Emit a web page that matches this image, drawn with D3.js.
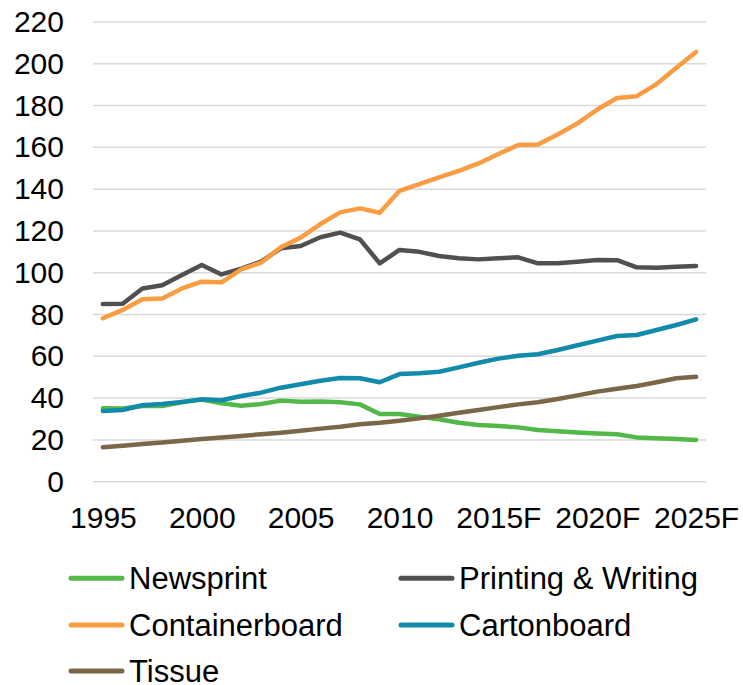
<!DOCTYPE html>
<html>
<head>
<meta charset="utf-8">
<script src="https://cdn.jsdelivr.net/npm/d3@7/dist/d3.min.js"></script>
<style>
  html, body { margin: 0; padding: 0; background: #fff; }
  svg { display: block; font-family: "Liberation Sans", Arial, sans-serif; }
</style>
</head>
<body>
<svg id="chart" width="743" height="685"></svg>
<script>
// Years on the category axis (forecast years marked with F)
const years = ["1995","1996","1997","1998","1999","2000","2001","2002","2003","2004",
  "2005","2006","2007","2008","2009","2010","2011","2012","2013","2014",
  "2015F","2016F","2017F","2018F","2019F","2020F","2021F","2022F","2023F","2024F","2025F"];
// Only every fifth year is labelled
const xTickLabels = ["1995","2000","2005","2010","2015F","2020F","2025F"];
const yTicks = [0,20,40,60,80,100,120,140,160,180,200,220];

const newsprint = [35.1,35.0,36.2,36.2,38.0,39.3,37.5,36.3,37.2,38.8,
  38.3,38.4,38.0,37.0,32.4,32.4,31.1,29.9,28.2,27.1,
  26.6,26.0,24.7,24.1,23.6,23.1,22.7,21.2,20.8,20.4,20.0];
const printingWriting = [85.0,85.2,92.5,94.0,98.9,103.7,99.2,102.0,105.3,111.7,
  112.8,117.0,119.2,116.0,104.5,110.9,110.0,108.0,106.9,106.4,
  106.9,107.4,104.5,104.5,105.3,106.1,106.0,102.6,102.4,102.9,103.2];
const containerboard = [78.2,82.2,87.3,87.7,92.5,95.7,95.4,101.6,104.8,112.2,
  116.8,123.3,128.9,130.8,128.7,139.2,142.4,145.6,148.8,152.3,
  156.8,161.1,161.4,166.2,171.5,178.1,183.6,184.5,190.3,198.1,205.7];
const cartonboard = [33.8,34.3,36.6,37.2,38.2,39.4,39.0,41.0,42.6,45.0,
  46.6,48.3,49.6,49.5,47.6,51.5,51.9,52.6,54.7,56.9,
  58.9,60.3,61.0,63.0,65.3,67.5,69.7,70.2,72.6,75.0,77.7];
const tissue = [16.5,17.2,18.0,18.8,19.6,20.4,21.2,21.9,22.7,23.4,
  24.4,25.4,26.3,27.5,28.2,29.2,30.3,31.6,33.0,34.3,
  35.7,37.0,38.0,39.6,41.3,43.1,44.5,45.8,47.6,49.5,50.2];

const seriesNames = ["Newsprint","Printing & Writing","Containerboard","Cartonboard","Tissue"];
const seriesColors = ["#52b848","#505052","#f99c42","#128aa9","#7b6647"];
const seriesValues = [newsprint, printingWriting, containerboard, cartonboard, tissue];

const svg = d3.select("#chart");
const plot = { left: 93, right: 706, top: 22, bottom: 481.7 };

const x = d3.scalePoint().domain(years).range([plot.left, plot.right]).padding(0.5);
const y = d3.scaleLinear().domain([0, 220]).range([plot.bottom, plot.top]);

// Horizontal gridlines
svg.append("g")
  .selectAll("line")
  .data(yTicks)
  .join("line")
  .attr("x1", plot.left).attr("x2", plot.right)
  .attr("y1", d => y(d)).attr("y2", d => y(d))
  .attr("stroke", "#d9d9d9").attr("stroke-width", 1.5);

// Value axis labels
const yAxis = d3.axisLeft(y).tickValues(yTicks).tickSize(0).tickPadding(0);
svg.append("g")
  .attr("transform", `translate(${plot.left - 29},0)`)
  .call(yAxis)
  .call(g => g.select(".domain").remove())
  .call(g => g.selectAll("text").attr("font-size", 30).attr("fill", "#000")
    .attr("font-family", "'Liberation Sans', Arial, sans-serif"));

// Category axis labels
const xAxis = d3.axisBottom(x).tickValues(xTickLabels).tickSize(0).tickPadding(0);
svg.append("g")
  .attr("transform", `translate(0,${plot.bottom + 25})`)
  .call(xAxis)
  .call(g => g.select(".domain").remove())
  .call(g => g.selectAll("text").attr("font-size", 30).attr("fill", "#000")
    .attr("font-family", "'Liberation Sans', Arial, sans-serif"));

// Series lines
const line = d3.line()
  .x((d, i) => x(years[i]))
  .y(d => y(d));

svg.append("g")
  .selectAll("path")
  .data(seriesValues)
  .join("path")
  .attr("d", d => line(d))
  .attr("fill", "none")
  .attr("stroke", (d, i) => seriesColors[i])
  .attr("stroke-width", 4.5)
  .attr("stroke-linejoin", "round")
  .attr("stroke-linecap", "round");

// Legend: two columns, filled row by row
const legendCols = [69, 399];
const legendRows = [578.3, 625, 671];
const legend = svg.append("g")
  .selectAll("g")
  .data(seriesNames)
  .join("g")
  .attr("transform", (d, i) => `translate(${legendCols[i % 2]},${legendRows[Math.floor(i / 2)]})`);

legend.append("line")
  .attr("x1", 2).attr("x2", 53)
  .attr("stroke", (d, i) => seriesColors[i])
  .attr("stroke-width", 5)
  .attr("stroke-linecap", "round");

legend.append("text")
  .attr("x", 60)
  .attr("dy", "0.36em")
  .attr("font-size", 31)
  .attr("fill", "#000")
  .text(d => d);
</script>
</body>
</html>
